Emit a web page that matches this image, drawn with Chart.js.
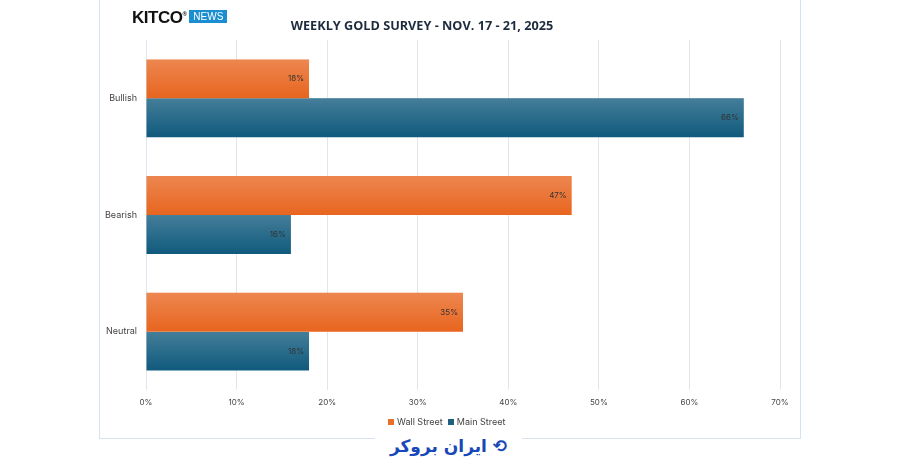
<!DOCTYPE html>
<html><head><meta charset="utf-8">
<script src="https://cdn.jsdelivr.net/npm/chart.js@4"></script>
<style>
body{margin:0;width:900px;height:471px;background:#fff;position:relative;overflow:hidden;font-family:"Open Sans",sans-serif}
#frame{position:absolute;left:99px;top:-2px;width:700px;height:439px;border:1px solid #d6e2ee}
#c{position:absolute;left:0;top:0}
#title{position:absolute;left:222px;width:400px;top:16px;text-align:center;font:bold 12.7px "Open Sans",sans-serif;color:#1d2b3f}
#logo{position:absolute;left:132px;top:8px;font:bold 17px "Liberation Sans",sans-serif;color:#111;letter-spacing:-0.5px}
#logo span{display:inline-block;background:#1b8ed1;color:#fff;font:500 10px "Liberation Sans",sans-serif;padding:1px 4px;margin-left:3px;vertical-align:3px;letter-spacing:0}
#legend{position:absolute;left:388px;top:416px;font:9px "Inter",sans-serif;color:#444}
#legend i{display:inline-block;width:6px;height:6px;margin-right:3px;vertical-align:0px}
#wm{position:absolute;left:375px;top:430px;width:147px;height:32px;background:#fff;text-align:center;font:bold 17px "DejaVu Sans",sans-serif;color:#1747b8;line-height:32px}
</style></head><body>
<div id="frame"></div>
<canvas id="c" width="900" height="471"></canvas>
<div id="logo">KITCO<sup style="font-size:6px">®</sup><span>NEWS</span></div>
<div id="title">WEEKLY GOLD SURVEY - NOV. 17 - 21, 2025</div>
<div id="legend"><i style="background:#e8702a"></i>Wall Street &nbsp;<i style="background:#1f5f80"></i>Main Street</div>
<div id="wm">ایران بروکر ⟲</div>
<script>
const categories=["Bullish","Bearish","Neutral"];
const wallStreet=[18,47,35];
const mainStreet=[66,16,18];
const xTicks=[0,10,20,30,40,50,60,70];
const shade={id:'shade',afterDatasetsDraw(ch){const c=ch.ctx;ch.data.datasets.forEach((d,di)=>{ch.getDatasetMeta(di).data.forEach((el,i)=>{const t=el.y-el.height/2,b=el.y+el.height/2;const g=c.createLinearGradient(0,t,0,b);g.addColorStop(0,'rgba(255,255,255,0.22)');g.addColorStop(1,'rgba(255,255,255,0)');c.fillStyle=g;c.fillRect(el.base,t,el.x-el.base,el.height);c.fillStyle='#333';c.font='8px "Inter",sans-serif';c.textAlign='right';c.textBaseline='middle';c.fillText(d.data[i]+'%',el.x-5,el.y);});});}};
new Chart(document.getElementById('c'),{type:'bar',
data:{labels:categories,datasets:[
{label:'Wall Street',data:wallStreet,backgroundColor:'#e8651f'},
{label:'Main Street',data:mainStreet,backgroundColor:'#105a7d'}]},
options:{indexAxis:'y',responsive:false,animation:false,devicePixelRatio:1,
layout:{padding:{left:80,right:120,top:40,bottom:61}},
datasets:{bar:{categoryPercentage:0.667,barPercentage:1}},
plugins:{legend:{display:false},tooltip:{enabled:false}},
scales:{
x:{min:0,max:70,afterBuildTicks(s){s.ticks=xTicks.map(v=>({value:v}));},grid:{color:'#dfe6ee',drawTicks:false},border:{display:false},
ticks:{padding:8,callback:v=>v+'%',color:'#444',font:{size:8,family:'Inter'}},afterFit(s){s.height=20;}},
y:{grid:{display:false},border:{display:false},ticks:{color:'#444',padding:1,font:{size:9,family:'Inter'}},afterFit(s){s.width=66;}}}},
plugins:[shade]});
</script></body></html>
